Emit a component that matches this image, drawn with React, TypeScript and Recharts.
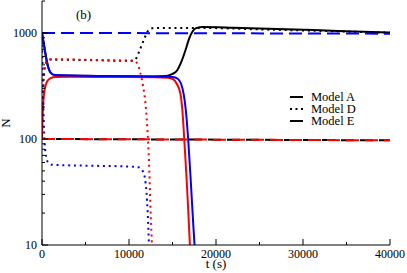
import { LineChart, Line, XAxis, YAxis, Legend } from "recharts";

// time grid (s) and populations N for each run
const aBlackT = [0, 200, 450, 700, 1000, 1500, 3000, 8000, 13000, 14300, 15000, 15500, 16000, 16500, 16900, 17300, 17700, 18500, 22000, 28000, 34000, 40000];
const aBlackN = [1000, 800, 600, 480, 420, 400, 396, 392, 388, 392, 410, 440, 530, 690, 880, 1030, 1110, 1135, 1120, 1085, 1045, 1010];

const aRedT = [0, 100, 300, 600, 1000, 1500, 3000, 8000, 13000, 14500, 15100, 15500, 15900, 16150, 16350, 16600, 16800, 17000, 17200];
const aRedN = [100, 190, 290, 350, 375, 385, 386, 384, 382, 378, 365, 330, 270, 180, 100, 45, 22, 10, 5];

const aBlueT = [0, 200, 450, 700, 1000, 1500, 3000, 8000, 13000, 15000, 15600, 16000, 16300, 16550, 16800, 17100, 17400, 17700];
const aBlueN = [1000, 800, 600, 480, 420, 400, 396, 392, 389, 385, 370, 330, 260, 180, 100, 40, 15, 6];

const dBlackT = [0, 100, 250, 500, 1000, 5000, 10500, 10900, 11200, 11500, 11800, 12100, 12400, 12800, 14000, 17000, 20000, 25000, 30000, 35000, 40000];
const dBlackN = [100, 250, 430, 530, 560, 555, 545, 590, 680, 780, 900, 1020, 1090, 1110, 1115, 1115, 1110, 1080, 1055, 1030, 1005];

const dRedT = [0, 100, 250, 500, 1000, 5000, 10500, 11000, 11300, 11600, 11850, 12100, 12300, 12450, 12600, 12750];
const dRedN = [100, 250, 430, 530, 565, 558, 545, 510, 420, 320, 233, 130, 60, 25, 12, 6];

const dBlueT = [0, 80, 200, 400, 700, 1200, 5000, 10000, 11100, 11500, 11800, 12000, 12150, 12300, 12450];
const dBlueN = [1000, 400, 150, 75, 60, 57, 56, 55, 54, 51, 44, 32, 20, 10, 5];

const eT = [0, 10000, 20000, 30000, 40000];
const eBlackN = [100, 99.3, 98.5, 97.8, 97];
const eRedN = [100, 99.3, 98.5, 97.8, 97];
const eBlueN = [1000, 996, 992, 988, 984];

const xMajor = [0, 10000, 20000, 30000, 40000];
const xMinor = [5000, 15000, 25000, 35000];
const yMajor = [10, 100, 1000];
const yMinor = [20, 30, 40, 50, 60, 70, 80, 90, 200, 300, 400, 500, 600, 700, 800, 900, 2000];

const legendItems = [
  { label: "Model A", dash: undefined },
  { label: "Model D", dash: "2 3.5" },
  { label: "Model E", dash: "13 6" },
];

const zip = (t: number[], n: number[]) => t.map((v, i) => ({ t: v, n: n[i] }));

const DOT = "2 3.8";
const DASH = "13 6";
const FONT = "'Liberation Serif', 'Times New Roman', serif";

const xTicks = [...xMajor, ...xMinor].sort((a, b) => a - b);
const yTicks = [...yMajor, ...yMinor].sort((a, b) => a - b);

function tick(side: "bottom" | "top" | "left" | "right") {
  return (p: any) => {
    const { x, y, payload } = p;
    const v = payload.value;
    const major = side === "left" || side === "right" ? yMajor.includes(v) : xMajor.includes(v);
    const len = major ? 6 : 3;
    let line;
    if (side === "bottom") line = <line x1={x} y1={y} x2={x} y2={y - len} stroke="#000" />;
    else if (side === "top") line = <line x1={x} y1={y} x2={x} y2={y + len} stroke="#000" />;
    else if (side === "left") line = <line x1={x} y1={y} x2={x + len} y2={y} stroke="#000" />;
    else line = <line x1={x} y1={y} x2={x - len} y2={y} stroke="#000" />;
    return (
      <g>
        {line}
        {major && side === "bottom" && (
          <text x={x} y={y + 13} textAnchor="middle" fontSize={12} fontFamily={FONT} fill="#000">
            {v}
          </text>
        )}
        {major && side === "left" && (
          <text x={x - 5} y={y + 4} textAnchor="end" fontSize={12} fontFamily={FONT} fill="#000">
            {v}
          </text>
        )}
      </g>
    );
  };
}

function LegendBox() {
  return (
    <div style={{ fontFamily: FONT, fontSize: 12.5, color: "#000" }}>
      {legendItems.map((it) => (
        <div key={it.label} style={{ display: "flex", alignItems: "center", height: 12, lineHeight: "12px" }}>
          <svg width={16} height={12}>
            <line x1={2} y1={6} x2={15} y2={6} stroke="#000" strokeWidth={2} strokeDasharray={it.dash} />
          </svg>
          <span style={{ marginLeft: 7 }}>{it.label}</span>
        </div>
      ))}
    </div>
  );
}

export default function App() {
  const common = { xAxisId: "b", yAxisId: "l", dataKey: "n", dot: false, activeDot: false, type: "monotone" as const, isAnimationActive: false, strokeWidth: 2 };
  return (
    <div style={{ position: "absolute", left: 0, top: 0, width: 407, height: 273, fontFamily: FONT }}>
      <LineChart width={407} height={273} margin={{ top: 1, right: 17, bottom: 0, left: 0 }}>
        <XAxis
          xAxisId="b"
          dataKey="t"
          type="number"
          domain={[0, 40000]}
          allowDataOverflow
          ticks={xTicks}
          interval={0}
          height={28}
          tickSize={0}
          tickMargin={0}
          tickLine={false}
          tick={tick("bottom")}
          stroke="#000"
          label={{ value: "t (s)", position: "insideBottom", offset: 5, fontSize: 13, fontFamily: FONT, fill: "#000" }}
        />
        <XAxis
          xAxisId="t"
          orientation="top"
          dataKey="t"
          type="number"
          domain={[0, 40000]}
          allowDataOverflow
          ticks={xTicks}
          interval={0}
          height={0}
          tickSize={0}
          tickMargin={0}
          tickLine={false}
          tick={tick("top")}
          stroke="#000"
        />
        <YAxis
          yAxisId="l"
          type="number"
          scale="log"
          domain={[10, 2000]}
          allowDataOverflow
          ticks={yTicks}
          interval={0}
          width={42}
          tickSize={0}
          tickMargin={0}
          tickLine={false}
          tick={tick("left")}
          stroke="#000"
          label={{ value: "N", angle: -90, position: "insideLeft", offset: 5, fontSize: 13, fontFamily: FONT, fill: "#000", style: { textAnchor: "middle" } }}
        />
        <YAxis
          yAxisId="r"
          orientation="right"
          type="number"
          scale="log"
          domain={[10, 2000]}
          allowDataOverflow
          ticks={yTicks}
          interval={0}
          width={0}
          tickSize={0}
          tickMargin={0}
          tickLine={false}
          tick={tick("right")}
          stroke="#000"
        />
        <Legend
          layout="horizontal"
          verticalAlign="middle"
          align="center"
          content={() => <LegendBox />}
          wrapperStyle={{ left: 288, top: 91, width: 90, height: 36 }}
        />

        <Line {...common} data={zip(aBlackT, aBlackN)} stroke="#000000" name="Model A" />
        <Line {...common} data={zip(aRedT, aRedN)} stroke="#ff0000" legendType="none" />
        <Line {...common} data={zip(aBlueT, aBlueN)} stroke="#0000ff" legendType="none" />

        <Line {...common} data={zip(dBlackT, dBlackN)} stroke="#000000" strokeDasharray={DOT} name="Model D" />
        <Line {...common} data={zip(dRedT, dRedN)} stroke="#ff0000" strokeDasharray={DOT} legendType="none" />
        <Line {...common} data={zip(dBlueT, dBlueN)} stroke="#0000ff" strokeDasharray={DOT} legendType="none" />

        <Line {...common} data={zip(eT, eBlackN)} stroke="#000000" strokeDasharray={DASH} strokeDashoffset={5} name="Model E" />
        <Line {...common} data={zip(eT, eRedN)} stroke="#ff0000" strokeDasharray={DASH} legendType="none" />
        <Line {...common} data={zip(eT, eBlueN)} stroke="#0000ff" strokeDasharray={DASH} legendType="none" />
      </LineChart>
      <div style={{ position: "absolute", left: 76, top: 8, fontSize: 13, lineHeight: "13px", color: "#000" }}>(b)</div>
    </div>
  );
}
